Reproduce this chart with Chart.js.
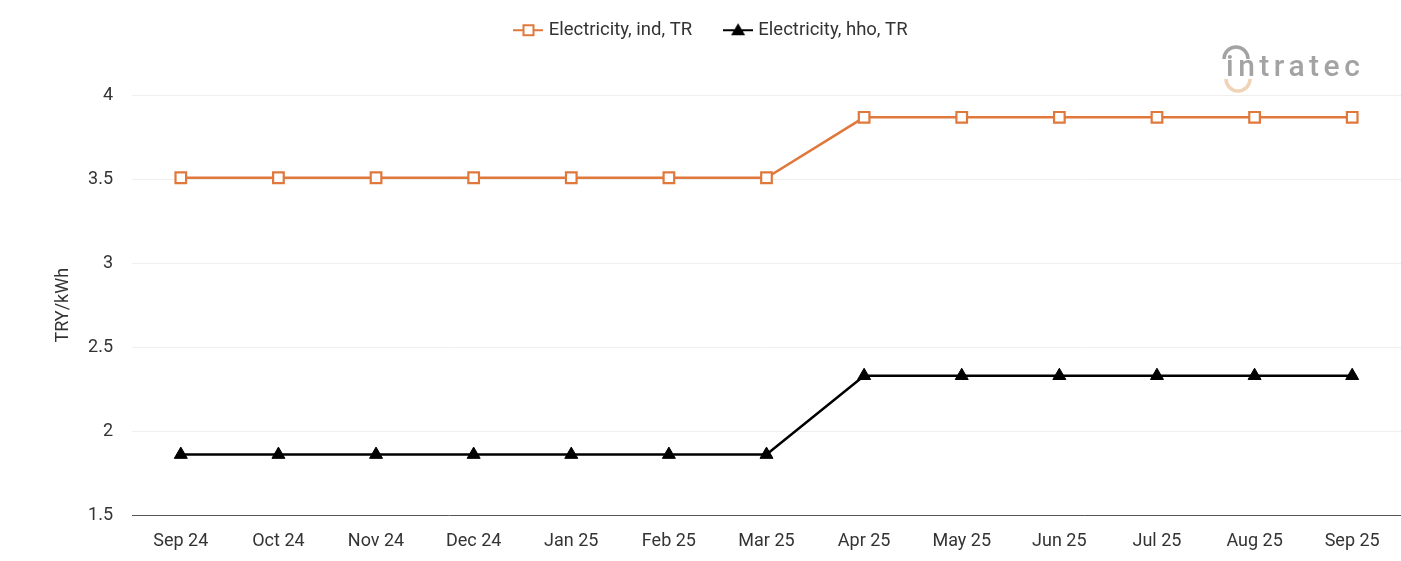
<!DOCTYPE html>
<html>
<head>
<meta charset="utf-8">
<script src="https://cdn.jsdelivr.net/npm/chart.js@4.4.1/dist/chart.umd.min.js"></script>
<style>
  html, body { margin: 0; padding: 0; background: #fff; overflow: hidden; }
  #wrap { width: 1401px; height: 561px; position: relative; }
  canvas { display: block; }
</style>
</head>
<body>
<div id="wrap"><canvas id="priceChart"></canvas></div>
<script>
// data
var months = ["Sep 24", "Oct 24", "Nov 24", "Dec 24", "Jan 25", "Feb 25", "Mar 25",
              "Apr 25", "May 25", "Jun 25", "Jul 25", "Aug 25", "Sep 25"];
var elecInd = [3.51, 3.51, 3.51, 3.51, 3.51, 3.51, 3.51, 3.87, 3.87, 3.87, 3.87, 3.87, 3.87];
var elecHho = [1.86, 1.86, 1.86, 1.86, 1.86, 1.86, 1.86, 2.33, 2.33, 2.33, 2.33, 2.33, 2.33];
var yTicks = [1.5, 2, 2.5, 3, 3.5, 4];

var ORANGE = "#E0783C";
var FONT = { family: "Roboto", size: 18 };

// little legend icon: line with marker through it
function legendIcon(color, shape) {
    var c = document.createElement("canvas");
    c.width = 30; c.height = 16;
    var g = c.getContext("2d");
    g.strokeStyle = color;
    g.lineWidth = 2;
    g.beginPath(); g.moveTo(0, 8); g.lineTo(30, 8); g.stroke();
    if (shape === "rect") {
        g.fillStyle = "#fff";
        g.fillRect(10, 3, 10, 10);
        g.strokeRect(10, 3, 10, 10);
    } else {
        g.fillStyle = color;
        g.beginPath(); g.moveTo(15, 1); g.lineTo(22, 13); g.lineTo(8, 13); g.closePath(); g.fill();
    }
    return c;
}

// leave extra room under the legend, and nudge it a bit right like the original
var legendGap = {
    id: "legendGap",
    beforeLayout: function(chart) {
        var leg = chart.legend;
        if (leg && !leg._gapDone) {
            var orig = leg.fit;
            leg.fit = function() { orig.call(this); this.height += 46; };
            leg._gapDone = true;
        }
    },
    afterLayout: function(chart) {
        var leg = chart.legend;
        if (leg) { leg.left += 12; leg.right += 12; }
    }
};

// watermark logo top right
var logoPlugin = {
    id: "logo",
    afterDraw: function(chart) {
        var ctx = chart.ctx;
        ctx.save();
        ctx.font = "500 30px Roboto";
        ctx.fillStyle = "#a3a3a3";
        ctx.letterSpacing = "4.5px";
        ctx.textBaseline = "alphabetic";
        ctx.fillText("intratec", 1226, 76);
        ctx.lineWidth = 3.5;
        ctx.strokeStyle = "#a3a3a3";
        ctx.beginPath();
        ctx.arc(1236, 59, 12, Math.PI * 1.0, Math.PI * 2.0);
        ctx.stroke();
        ctx.strokeStyle = "#f0d3b6";
        ctx.beginPath();
        ctx.arc(1238, 79, 12, Math.PI * 0.0, Math.PI * 1.0);
        ctx.stroke();
        ctx.restore();
    }
};

var ctx = document.getElementById("priceChart");
var chart = new Chart(ctx, {
    type: "line",
    data: {
        labels: months,
        datasets: [
            {
                label: "Electricity, ind, TR",
                data: elecInd,
                borderColor: ORANGE,
                backgroundColor: "#fff",
                borderWidth: 2.5,
                pointStyle: "rect",
                pointRadius: 7.5,
                pointBorderWidth: 2.2,
                pointBorderColor: ORANGE,
                pointBackgroundColor: "#fff",
                tension: 0
            },
            {
                label: "Electricity, hho, TR",
                data: elecHho,
                borderColor: "#000",
                backgroundColor: "#000",
                borderWidth: 2.5,
                pointStyle: "triangle",
                pointRadius: 7.5,
                pointBorderWidth: 1,
                pointBackgroundColor: "#000",
                tension: 0
            }
        ]
    },
    options: {
        responsive: true,
        maintainAspectRatio: false,
        animation: false,
        layout: { autoPadding: false, padding: { left: 0, right: 0, top: -14, bottom: 0 } },
        plugins: {
            tooltip: { enabled: false },
            legend: {
                position: "top",
                labels: {
                    usePointStyle: true,
                    pointStyleWidth: 22,
                    font: { family: "Roboto", size: 18.5 },
                    color: "#333",
                    padding: 35,
                    generateLabels: function(ch) {
                        return ch.data.datasets.map(function(ds, i) {
                            return {
                                text: ds.label,
                                pointStyle: legendIcon(ds.borderColor, i === 0 ? "rect" : "tri"),
                                fontColor: "#333",
                                strokeStyle: ds.borderColor,
                                fillStyle: ds.borderColor,
                                lineWidth: 0,
                                hidden: false,
                                datasetIndex: i
                            };
                        });
                    }
                }
            }
        },
        scales: {
            x: {
                offset: true,
                grid: { display: false, drawTicks: false },
                border: { display: true, color: "#555", width: 1 },
                ticks: {
                    color: "#333",
                    font: FONT,
                    padding: 16,
                    maxRotation: 0
                },
                afterFit: function(s) {
                    s.height = 46;
                    s.paddingLeft = 0;
                    s.paddingRight = 0;
                }
            },
            y: {
                min: 1.5,
                max: 4,
                afterBuildTicks: function(s) {
                    s.ticks = yTicks.map(function(v) { return { value: v }; });
                },
                grid: { color: "#efefef", lineWidth: 1, drawTicks: false },
                border: { display: false },
                ticks: {
                    color: "#333",
                    font: FONT,
                    padding: 19,
                    callback: function(v) { return String(v); }
                },
                title: {
                    display: true,
                    text: "TRY/kWh",
                    color: "#333",
                    font: FONT,
                    padding: { top: 53, bottom: 0 }
                },
                afterFit: function(s) { s.width = 132; }
            }
        }
    },
    plugins: [legendGap, logoPlugin]
});
</script>
</body>
</html>
